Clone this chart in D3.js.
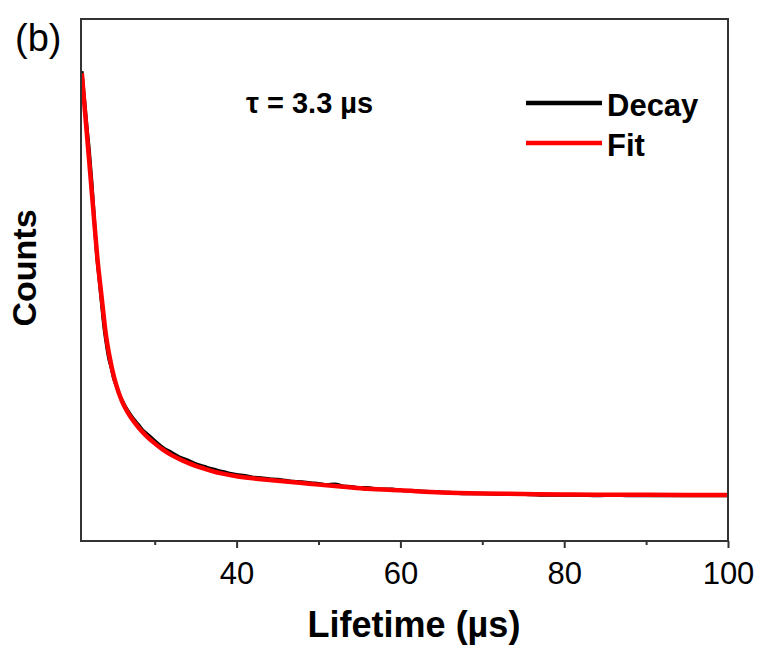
<!DOCTYPE html>
<html><head><meta charset="utf-8">
<script src="https://cdn.jsdelivr.net/npm/d3@7"></script>
<style>body{margin:0;background:#fff}text{font-family:Arial,"Liberation Sans",sans-serif;fill:#000}</style>
</head><body><svg id="c" width="763" height="650"></svg>
<script>
// ---- data ----
const decayX = [21.1,21.4,21.7,22,22.3,22.6,22.9,23.2,23.5,23.8,24.1,24.4,24.7,25,25.3,25.6,26,26.5,27,27.5,28,28.5,29,29.5,30,31,32,33,34,35,36,37,38,39,40,41,42,43,44,45,46,47,48,49,50,51,52,53,54,55,56,57,58,59,60,62,64,66,68,70,72,74,76,78,80,82,84,86,88,90,92,94,96,98,100];
const decayY = [900,848,796,748,690,622,552,505,458,412,378,350,332,311,298,284,270,255,243,232,223,213,206,199,192,179,170,161,155,148,143,138,134,130,127,125,122,121,119,118,116,114,113,111,110,108,109,105,104,102,102,100,99,99,97,96,94,93,91,91,90,90,89,88,88,88,87,88,87,87,87,87,87,87,87];
const fitX = [21.1,21.5,22,22.5,23,23.5,24,24.5,25,25.5,26,26.5,27,28,29,30,31,32,33,34,35,36,38,40,42,44,46,48,50,53,56,60,65,70,75,80,90,100];
const fitY = [896,820,728,634,542,470,400,352,316,289,268,252,239,218,201,187,175,165,157,150,144,139,130,124,120,117,114,111,108,104,100,97,93,91,90,89,88.5,88];
const xMajorTicks = [40,60,80,100];
const xMinorTicks = [30,50,70,90];
const seriesNames = ["Decay","Fit"];
const seriesColors = ["#000000","#ff0000"];
const xTitle = "Lifetime (µs)";
const yTitle = "Counts";
const panelLabel = "(b)";
const annotation = "τ = 3.3 µs";

// ---- layout ----
const W = 763, H = 650;
const m = {left:81, top:19, right:35, bottom:109};
const svg = d3.select("#c");
const x = d3.scaleLinear().domain([21,100]).range([m.left, W-m.right]);
const y = d3.scaleLinear().domain([0,1000]).range([H-m.bottom, m.top]);

svg.append("defs").append("clipPath").attr("id","clip")
  .append("rect").attr("x",m.left).attr("y",m.top)
  .attr("width",W-m.left-m.right).attr("height",H-m.top-m.bottom);

const line = d3.line().x(d=>x(d[0])).y(d=>y(d[1])).curve(d3.curveMonotoneX);
const g = svg.append("g").attr("clip-path","url(#clip)");
g.append("path").datum(decayX.map((v,i)=>[v,decayY[i]]))
  .attr("d",line).attr("fill","none").attr("stroke",seriesColors[0]).attr("stroke-width",3.4).attr("stroke-linejoin","round");
g.append("path").datum(fitX.map((v,i)=>[v,fitY[i]]))
  .attr("d",line).attr("fill","none").attr("stroke",seriesColors[1]).attr("stroke-width",4.5).attr("stroke-linejoin","round");

// frame
svg.append("rect").attr("x",m.left).attr("y",m.top)
  .attr("width",W-m.left-m.right).attr("height",H-m.top-m.bottom)
  .attr("fill","none").attr("stroke","#333").attr("stroke-width",2);

// x axis
const axMaj = d3.axisBottom(x).tickValues(xMajorTicks).tickSize(7).tickPadding(14).tickFormat(d3.format("d"));
const gx = svg.append("g").attr("transform",`translate(0,${H-m.bottom})`).call(axMaj);
gx.select(".domain").remove();
gx.selectAll(".tick line").attr("stroke","#333").attr("stroke-width",2);
gx.selectAll(".tick text").attr("font-size",31).attr("font-family","Arial, 'Liberation Sans', sans-serif").attr("fill","#111");
const axMin = d3.axisBottom(x).tickValues(xMinorTicks).tickSize(4).tickFormat("");
const gm = svg.append("g").attr("transform",`translate(0,${H-m.bottom})`).call(axMin);
gm.select(".domain").remove();
gm.selectAll(".tick line").attr("stroke","#333").attr("stroke-width",2);

// titles
svg.append("text").attr("x",414).attr("y",637).attr("text-anchor","middle")
  .attr("font-size",36).attr("font-weight","bold").text(xTitle);
svg.append("text").attr("transform","translate(36,268) rotate(-90)").attr("text-anchor","middle")
  .attr("font-size",34).attr("font-weight","bold").text(yTitle);
svg.append("text").attr("x",15).attr("y",51).attr("font-size",38).text(panelLabel);
svg.append("text").attr("x",246).attr("y",113).attr("font-size",29).attr("font-weight","bold").text(annotation);

// legend
const leg = svg.append("g");
seriesNames.forEach((n,i)=>{
  const yy = 103 + i*40;
  leg.append("line").attr("x1",526).attr("x2",602).attr("y1",yy).attr("y2",yy)
    .attr("stroke",seriesColors[i]).attr("stroke-width",4.5);
  leg.append("text").attr("x",607).attr("y",yy+13).attr("font-size",31).attr("font-weight","bold").text(n);
});
</script></body></html>
